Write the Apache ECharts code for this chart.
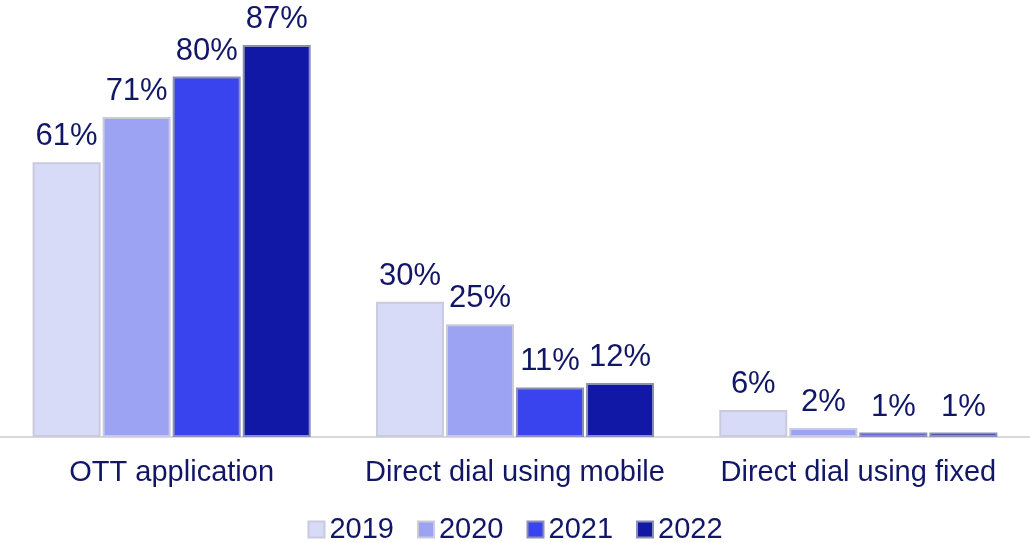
<!DOCTYPE html>
<html>
<head>
<meta charset="utf-8">
<script src="https://cdn.jsdelivr.net/npm/echarts@6/dist/echarts.min.js"></script>
<style>
  html, body { margin: 0; padding: 0; background: #fff; }
  #chart { width: 1030px; height: 543px; }
</style>
</head>
<body>
<div id="chart"></div>
<script>
// 数据
const categories = ['OTT application', 'Direct dial using mobile', 'Direct dial using fixed'];
const years = ['2019', '2020', '2021', '2022'];
const v2019 = [61, 30, 6];
const v2020 = [71, 25, 2];
const v2021 = [80, 11, 1];
const v2022 = [87, 12, 1];
const colors = ['#d8dbf8', '#9ca3f3', '#3944ee', '#1118a6'];

const textColor = '#111766';
const allValues = [v2019, v2020, v2021, v2022];

const chart = echarts.init(document.getElementById('chart'));

const option = {
  animation: false,
  grid: { left: 0, right: 0, top: 45, bottom: 106, containLabel: false },
  legend: {
    data: years,
    bottom: -6,
    left: 'center',
    icon: 'rect',
    itemWidth: 16,
    itemHeight: 16,
    itemGap: 23,
    textStyle: { fontFamily: 'Liberation Sans, Arial', fontSize: 29, color: textColor }
  },
  xAxis: {
    type: 'category',
    data: categories,
    axisLine: { lineStyle: { color: '#d9d9d9', width: 2 } },
    axisTick: { show: false },
    axisLabel: { interval: 0, fontFamily: 'Liberation Sans, Arial', fontSize: 29, color: textColor, margin: 21 }
  },
  yAxis: {
    type: 'value',
    min: 0,
    max: 87,
    show: false,
    splitLine: { show: false }
  },
  series: years.map((y, i) => ({
    name: y,
    type: 'bar',
    data: allValues[i],
    barGap: '3%',
    barCategoryGap: '19%',
    itemStyle: {
      color: colors[i],
      borderColor: i < 2 ? '#c9cade' : '#8c90b4',
      borderWidth: 2
    },
    label: {
      show: true,
      position: 'top',
      distance: 10,
      formatter: '{c}%',
      fontFamily: 'Liberation Sans, Arial',
      fontSize: 31,
      color: textColor
    }
  }))
};

chart.setOption(option);
</script>
</body>
</html>
